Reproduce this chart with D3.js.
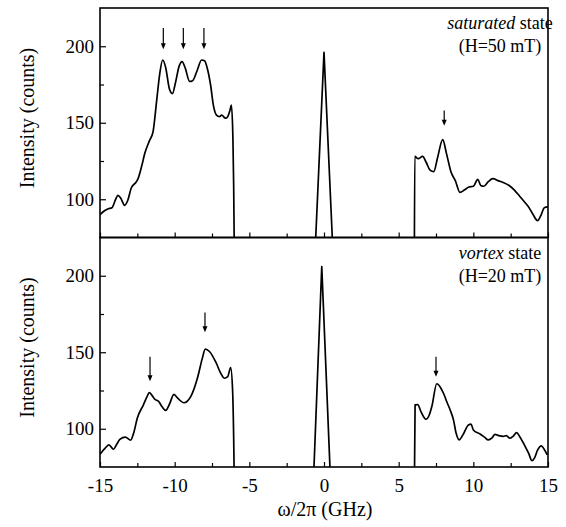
<!DOCTYPE html>
<html>
<head>
<meta charset="utf-8">
<script src="https://cdn.jsdelivr.net/npm/d3@7/dist/d3.min.js"></script>
<style>
  body { margin: 0; background: #fff; }
  svg { font-family: "Liberation Serif", "Times New Roman", serif; }
</style>
</head>
<body>
<div id="chart"></div>
<script>
// frequency (GHz) / intensity (counts) pairs
const satStokes = [
  [-15.0, 90], [-14.7, 92.5], [-14.45, 93.8], [-14.2, 94.5], [-13.95, 100], [-13.8, 102.5],
  [-13.6, 100.5], [-13.35, 96], [-13.15, 99], [-12.9, 107.5], [-12.6, 111], [-12.45, 113.5],
  [-12.2, 122], [-12.0, 130], [-11.7, 138], [-11.45, 144], [-11.2, 165], [-11.0, 182],
  [-10.8, 191], [-10.6, 186], [-10.35, 172], [-10.15, 169], [-9.95, 176], [-9.7, 187],
  [-9.5, 190], [-9.3, 186], [-9.0, 177], [-8.8, 177.5], [-8.5, 184], [-8.2, 191],
  [-8.0, 190.5], [-7.8, 185], [-7.6, 175], [-7.4, 161], [-7.2, 155], [-7.0, 154],
  [-6.85, 155], [-6.6, 153], [-6.45, 154], [-6.3, 158], [-6.2, 161.5], [-6.1, 140],
  [-6.05, 110], [-6.0, 60]
];
const satElastic = [[-0.6, 65], [0, 196], [0.6, 65]];
const satAnti = [
  [6.05, 60], [6.08, 128], [6.3, 126.5], [6.6, 128], [6.85, 124], [7.1, 119], [7.35, 118],
  [7.6, 127], [7.95, 139], [8.2, 130], [8.5, 118], [8.8, 112], [9.1, 104.5], [9.4, 106],
  [9.7, 108], [10.0, 108.5], [10.3, 113], [10.5, 109], [10.7, 108.5], [11.0, 111.5],
  [11.3, 113.5], [11.7, 112], [12.0, 111], [12.4, 109], [12.75, 106], [13.1, 102],
  [13.4, 98.5], [13.7, 95], [14.0, 90], [14.3, 86], [14.55, 90], [14.75, 94.5], [15.0, 95]
];

const vortStokes = [
  [-15.0, 83.3], [-14.67, 87.2], [-14.4, 89.4], [-14.1, 86.6], [-13.9, 89.5], [-13.67, 93],
  [-13.3, 94.5], [-12.95, 92.5], [-12.75, 97], [-12.5, 107], [-12.1, 115.5], [-11.85, 121],
  [-11.7, 123.7], [-11.5, 121.5], [-11.33, 119.3], [-11.07, 117.8], [-10.85, 114.5],
  [-10.6, 112], [-10.35, 116], [-10.05, 122.5], [-9.8, 120], [-9.38, 117], [-8.9, 121.5],
  [-8.45, 134], [-8.15, 146], [-7.95, 152], [-7.67, 150.5], [-7.22, 143], [-6.9, 136],
  [-6.67, 133], [-6.45, 134], [-6.25, 140], [-6.12, 125], [-6.05, 95], [-6.0, 60]
];
const vortElastic = [[-0.71, 65], [-0.15, 206], [0.44, 65]];
const vortAnti = [
  [6.05, 60], [6.1, 115.6], [6.28, 115.8], [6.5, 111], [6.82, 106.2], [7.05, 109],
  [7.22, 114.5], [7.55, 129.4], [7.8, 127], [8.0, 123.2], [8.25, 117], [8.45, 112.3],
  [8.67, 105.8], [8.85, 97], [9.05, 92.7], [9.3, 96], [9.67, 102.5], [9.85, 103],
  [10.0, 99.2], [10.45, 96.6], [10.75, 94.5], [11.0, 92.7], [11.25, 94], [11.45, 96.3],
  [11.7, 95.5], [12.0, 95], [12.2, 95.5], [12.45, 93.8], [12.65, 95], [12.9, 97.5],
  [13.1, 95], [13.45, 88.8], [13.7, 84], [13.93, 79.1], [14.1, 81], [14.3, 86],
  [14.55, 88.8], [14.75, 86.5], [14.95, 83]
];

// arrows: [frequency, tip counts, tail counts]
const satArrows = [[-10.76, 198, 212], [-9.42, 198, 212], [-8.04, 198, 212], [8.05, 148, 158]];
const vortArrows = [[-11.65, 131, 147], [-7.97, 163, 176], [7.5, 134, 147]];

const xMajor = [-15, -10, -5, 0, 5, 10, 15];
const xMinor = [-12.5, -7.5, -2.5, 2.5, 7.5, 12.5];
const yMajor = [100, 150, 200];
const yMinor = [125, 175];
const yDomain = [75, 225];

const panels = [
  { segs: [satStokes, satElastic, satAnti], arrows: satArrows, italic: "saturated", rest: " state", field: "(H=50 mT)" },
  { segs: [vortStokes, vortElastic, vortAnti], arrows: vortArrows, italic: "vortex", rest: " state", field: "(H=20 mT)" }
];

const width = 566, height = 527;
const plotLeft = 100, plotRight = 548, plotTop = 8, panelH = 229.5;

const svg = d3.select("#chart").append("svg")
  .attr("width", width)
  .attr("height", height);

const x = d3.scaleLinear().domain([-15, 15]).range([plotLeft, plotRight]);

panels.forEach((p, i) => {
  const y0 = plotTop + i * panelH;
  const y = d3.scaleLinear().domain(yDomain).range([y0 + panelH, y0]);
  const g = svg.append("g");

  g.append("clipPath").attr("id", "clip" + i)
    .append("rect")
    .attr("x", plotLeft).attr("y", y0)
    .attr("width", plotRight - plotLeft).attr("height", panelH);

  const line = d3.line()
    .x(d => x(d[0]))
    .y(d => y(d[1]));

  g.append("g").attr("clip-path", `url(#clip${i})`)
    .selectAll("path")
    .data(p.segs)
    .join("path")
    .attr("d", (d, k) => line.curve(k === 1 ? d3.curveLinear : d3.curveMonotoneX)(d))
    .attr("fill", "none")
    .attr("stroke", "#000")
    .attr("stroke-width", 1.7)
    .attr("stroke-linejoin", "round");

  // bottom axis, ticks inward
  g.append("g")
    .attr("transform", `translate(0,${y0 + panelH})`)
    .call(d3.axisBottom(x).tickValues(xMajor).tickSize(-5).tickPadding(12)
      .tickFormat(i === 1 ? (d => String(d)) : ""));
  g.append("g")
    .attr("transform", `translate(0,${y0 + panelH})`)
    .call(d3.axisBottom(x).tickValues(xMinor).tickSize(-4).tickFormat(""));

  g.append("g")
    .attr("transform", `translate(${plotLeft},0)`)
    .call(d3.axisLeft(y).tickValues(yMajor).tickSize(-6).tickPadding(6));
  g.append("g")
    .attr("transform", `translate(${plotLeft},0)`)
    .call(d3.axisLeft(y).tickValues(yMinor).tickSize(-4).tickFormat(""));

  g.selectAll(".domain").remove();
  g.selectAll(".tick line").attr("stroke", "#000").attr("stroke-width", 1.2);
  g.selectAll(".tick text")
    .attr("fill", "#000")
    .attr("font-size", 19)
    .attr("font-family", "Liberation Serif");

  g.append("rect")
    .attr("x", plotLeft).attr("y", y0)
    .attr("width", plotRight - plotLeft).attr("height", panelH)
    .attr("fill", "none").attr("stroke", "#000").attr("stroke-width", 1.6);

  // arrows marking the modes
  const ar = g.append("g").selectAll("g").data(p.arrows).join("g");
  ar.append("line")
    .attr("x1", d => x(d[0])).attr("x2", d => x(d[0]))
    .attr("y1", d => y(d[2])).attr("y2", d => y(d[1]) - 4)
    .attr("stroke", "#000").attr("stroke-width", 1.2);
  ar.append("path")
    .attr("d", d => {
      const cx = x(d[0]), ty = y(d[1]);
      return `M${cx - 2.5},${ty - 6}L${cx + 2.5},${ty - 6}L${cx},${ty}Z`;
    })
    .attr("fill", "#000");

  const lab = g.append("text")
    .attr("x", 500).attr("y", y0 + 21)
    .attr("text-anchor", "middle")
    .attr("font-size", 18);
  lab.append("tspan").attr("font-style", "italic").text(p.italic);
  lab.append("tspan").text(p.rest);
  g.append("text")
    .attr("x", 500).attr("y", y0 + 44)
    .attr("text-anchor", "middle")
    .attr("font-size", 18)
    .text(p.field);

  g.append("text")
    .attr("transform", `translate(27,${y0 + 110}) rotate(-90)`)
    .attr("text-anchor", "middle")
    .attr("dominant-baseline", "central")
    .attr("font-size", 20)
    .text("Intensity (counts)");
});

svg.append("text")
  .attr("x", 325).attr("y", 516)
  .attr("text-anchor", "middle")
  .attr("font-size", 20)
  .text("ω/2π (GHz)");
</script>
</body>
</html>
